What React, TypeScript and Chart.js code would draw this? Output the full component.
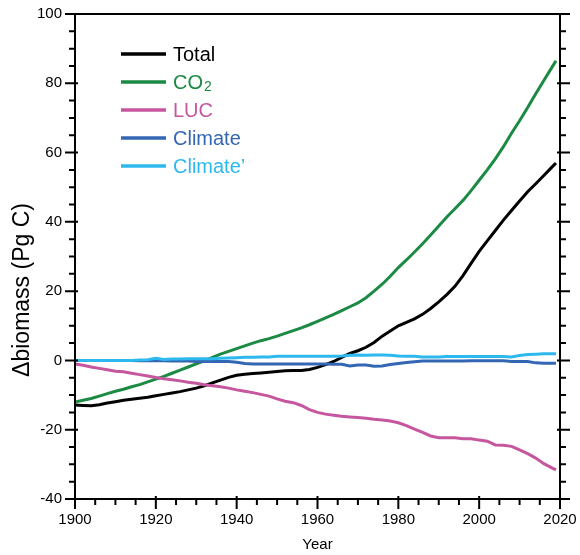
import React, { useEffect, useRef } from "react";
import { Chart, registerables } from "chart.js";

Chart.register(...registerables);

const FONT = "'Liberation Sans', Arial, Helvetica, sans-serif";

const years = [
  1900, 1902, 1904, 1906, 1908, 1910, 1912, 1914, 1916, 1918,
  1920, 1922, 1924, 1926, 1928, 1930, 1932, 1934, 1936, 1938,
  1940, 1942, 1944, 1946, 1948, 1950, 1952, 1954, 1956, 1958,
  1960, 1962, 1964, 1966, 1968, 1970, 1972, 1974, 1976, 1978,
  1980, 1982, 1984, 1986, 1988, 1990, 1992, 1994, 1996, 1998,
  2000, 2002, 2004, 2006, 2008, 2010, 2012, 2014, 2016, 2018,
  2019,
];

const total = [
  -12.9, -13.0, -13.1, -12.8, -12.3, -11.9, -11.5, -11.2, -10.9, -10.6,
  -10.2, -9.8, -9.4, -9.0, -8.5, -8.0, -7.3, -6.5, -5.7, -4.9,
  -4.3, -4.0, -3.8, -3.6, -3.4, -3.2, -3.0, -2.9, -2.9, -2.6,
  -2.0, -1.2, -0.3, 0.9, 2.0, 2.8, 3.8, 5.2, 7.0, 8.5,
  10.0, 11.0, 12.0, 13.3, 15.0, 16.9, 19.0, 21.4, 24.5, 28.0,
  31.5, 34.5, 37.5, 40.5, 43.3, 46.0, 48.7, 51.0, 53.4, 55.8,
  57.0,
];

const co2 = [
  -12.0, -11.5, -11.0, -10.3, -9.6, -8.9, -8.3, -7.6, -7.0, -6.2,
  -5.4, -4.6, -3.7, -2.8, -1.9, -1.0, -0.1, 0.9, 1.8, 2.6,
  3.4, 4.2, 5.0, 5.7, 6.3, 7.0, 7.8, 8.6, 9.4, 10.3,
  11.3, 12.3, 13.3, 14.4, 15.5, 16.6, 18.1, 20.0, 22.0, 24.3,
  26.8, 29.0, 31.3, 33.7, 36.2, 38.8, 41.4, 43.8, 46.2, 49.0,
  52.0, 55.0, 58.2, 61.7, 65.6, 69.2, 73.0, 77.0, 80.8, 84.6,
  86.5,
];

const luc = [
  -1.0, -1.4, -1.9, -2.3, -2.7, -3.1, -3.3, -3.7, -4.1, -4.5,
  -4.9, -5.3, -5.6, -5.9, -6.3, -6.6, -7.0, -7.3, -7.6, -8.0,
  -8.5, -8.9, -9.3, -9.8, -10.3, -11.1, -11.8, -12.2, -13.0, -14.2,
  -15.0, -15.5, -15.8, -16.1, -16.3, -16.5, -16.7, -17.0, -17.2, -17.5,
  -18.0, -18.8, -19.8, -20.8, -21.8, -22.3, -22.3, -22.3, -22.6, -22.6,
  -23.0, -23.3, -24.4, -24.5, -24.8, -25.8, -26.9, -28.2, -29.8, -31.0,
  -31.6,
];

const climate = [
  0.0, 0.0, 0.0, 0.0, 0.0, 0.0, 0.0, 0.0, -0.1, -0.1,
  -0.1, -0.1, -0.2, -0.2, -0.2, -0.3, -0.3, -0.3, -0.3, -0.3,
  -0.5, -0.9, -1.0, -1.0, -1.0, -1.0, -1.0, -1.0, -1.0, -1.0,
  -1.0, -1.0, -1.1, -1.1, -1.6, -1.3, -1.3, -1.7, -1.6, -1.2,
  -0.9, -0.6, -0.4, -0.2, -0.2, -0.2, -0.2, -0.2, -0.2, -0.1,
  -0.1, -0.1, -0.1, -0.1, -0.3, -0.3, -0.3, -0.7, -0.8, -0.8,
  -0.8,
];

const climatePrime = [
  0.0, 0.0, 0.0, 0.0, 0.0, 0.0, 0.0, 0.0, 0.1, 0.2,
  0.6, 0.3, 0.4, 0.4, 0.5, 0.5, 0.5, 0.5, 0.6, 0.7,
  0.8, 0.9, 0.9, 1.0, 1.0, 1.2, 1.2, 1.2, 1.2, 1.2,
  1.2, 1.2, 1.2, 1.3, 1.5, 1.6, 1.5, 1.6, 1.6, 1.5,
  1.3, 1.2, 1.2, 1.0, 1.0, 1.0, 1.1, 1.1, 1.1, 1.1,
  1.1, 1.1, 1.1, 1.1, 1.0, 1.4, 1.7, 1.8, 1.9, 1.9,
  1.9,
];

const seriesLabels = ["Total", "CO2", "LUC", "Climate", "Climate\u2019"];
const seriesColors = ["#000000", "#1b8a43", "#c6579f", "#3467b3", "#2db8ee"];
const seriesValues = [total, co2, luc, climate, climatePrime];
const seriesOrder = [4, 3, 2, 1, 0];

const xTicks = [1900, 1920, 1940, 1960, 1980, 2000, 2020];
const yTicks = [-40, -20, 0, 20, 40, 60, 80, 100];
const xTitle = "Year";
const yTitle = "\u0394biomass (Pg C)";

const framePlugin = {
  id: "frameTicks",
  afterDatasetsDraw(chart: any) {
    const { ctx, chartArea: a, scales } = chart;
    const x = scales.x;
    const y = scales.y;
    ctx.save();
    ctx.strokeStyle = "#000";
    ctx.lineWidth = 2;
    ctx.strokeRect(a.left, a.top, a.right - a.left, a.bottom - a.top);
    ctx.beginPath();
    for (let v = y.min; v <= y.max; v += 5) {
      const py = y.getPixelForValue(v);
      const major = v % 20 === 0;
      const out = major ? 10 : 6;
      const inn = major ? 3 : 0;
      ctx.moveTo(a.left - out, py);
      ctx.lineTo(a.left + inn, py);
      ctx.moveTo(a.right - inn, py);
      ctx.lineTo(a.right + out, py);
    }
    for (let v = x.min; v <= x.max; v += 5) {
      const px = x.getPixelForValue(v);
      const major = v % 20 === 0;
      const out = major ? 10 : 6;
      const inn = major ? 3 : 0;
      ctx.moveTo(px, a.bottom - inn);
      ctx.lineTo(px, a.bottom + out);
    }
    ctx.stroke();
    ctx.restore();
  },
  afterDraw(chart: any) {
    const { ctx, chartArea: a } = chart;
    ctx.save();
    ctx.fillStyle = "#000";
    ctx.font = `15px ${FONT}`;
    ctx.textAlign = "center";
    ctx.textBaseline = "middle";
    ctx.fillText(xTitle, (a.left + a.right) / 2, 545);
    ctx.save();
    ctx.translate(23, 290);
    ctx.rotate(-Math.PI / 2);
    ctx.font = `23px ${FONT}`;
    ctx.fillText(yTitle, 0, 0);
    ctx.restore();

    const ds = chart.data.datasets;
    ds.forEach((d: any, i: number) => {
      const ly = a.top + 40 + i * 28;
      ctx.strokeStyle = d.borderColor;
      ctx.lineWidth = 3.5;
      ctx.beginPath();
      ctx.moveTo(a.left + 46, ly);
      ctx.lineTo(a.left + 91, ly);
      ctx.stroke();
      ctx.fillStyle = d.borderColor;
      ctx.textAlign = "left";
      ctx.textBaseline = "alphabetic";
      const base = ly + 7;
      const m = /^(.*?)(\d)$/.exec(d.label);
      const tx = a.left + 98;
      if (m) {
        ctx.font = `20px ${FONT}`;
        ctx.fillText(m[1], tx, base);
        const w = ctx.measureText(m[1]).width;
        ctx.font = `14px ${FONT}`;
        ctx.fillText(m[2], tx + w + 1, base + 2);
      } else {
        ctx.font = `20px ${FONT}`;
        ctx.fillText(d.label, tx, base);
      }
    });
    ctx.restore();
  },
};

function zeroPad(s: any) {
  s.paddingTop = 0;
  s.paddingBottom = 0;
  s.paddingLeft = 0;
  s.paddingRight = 0;
}

export default function App() {
  const ref = useRef<HTMLCanvasElement | null>(null);

  useEffect(() => {
    if (!ref.current) return;
    const datasets = seriesLabels.map((label, i) => ({
      label,
      data: years.map((yr, j) => ({ x: yr, y: seriesValues[i][j] })),
      borderColor: seriesColors[i],
      backgroundColor: seriesColors[i],
      borderWidth: 3,
      pointRadius: 0,
      tension: 0,
      fill: false,
      order: seriesOrder[i],
    }));
    const tickFont = { family: FONT, size: 15 };
    const chart = new Chart(ref.current, {
      type: "line",
      data: { datasets },
      plugins: [framePlugin],
      options: {
        animation: false,
        responsive: true,
        maintainAspectRatio: false,
        layout: { padding: { top: 14, right: 20, left: 0, bottom: 0 } },
        plugins: { legend: { display: false }, tooltip: { enabled: false } },
        scales: {
          x: {
            type: "linear",
            min: 1900,
            max: 2020,
            afterFit: (s: any) => {
              s.height = 56;
              zeroPad(s);
            },
            afterBuildTicks: (s: any) => {
              s.ticks = xTicks.map((v) => ({ value: v }));
            },
            grid: { display: false, drawTicks: false },
            border: { display: false },
            ticks: {
              padding: 12,
              color: "#000",
              font: tickFont,
              maxRotation: 0,
              autoSkip: false,
              callback: (v: any) => String(v),
            },
          },
          y: {
            type: "linear",
            min: -40,
            max: 100,
            afterFit: (s: any) => {
              s.width = 75;
              zeroPad(s);
            },
            afterBuildTicks: (s: any) => {
              s.ticks = yTicks.map((v) => ({ value: v }));
            },
            grid: { display: false, drawTicks: false },
            border: { display: false },
            ticks: {
              padding: 13,
              color: "#000",
              font: tickFont,
              autoSkip: false,
              callback: (v: any) => String(v),
            },
          },
        },
      },
    } as any);
    return () => chart.destroy();
  }, []);

  return (
    <div
      style={{
        position: "fixed",
        left: 0,
        top: 0,
        width: 580,
        height: 555,
        background: "#fff",
      }}
    >
      <canvas ref={ref} />
    </div>
  );
}
